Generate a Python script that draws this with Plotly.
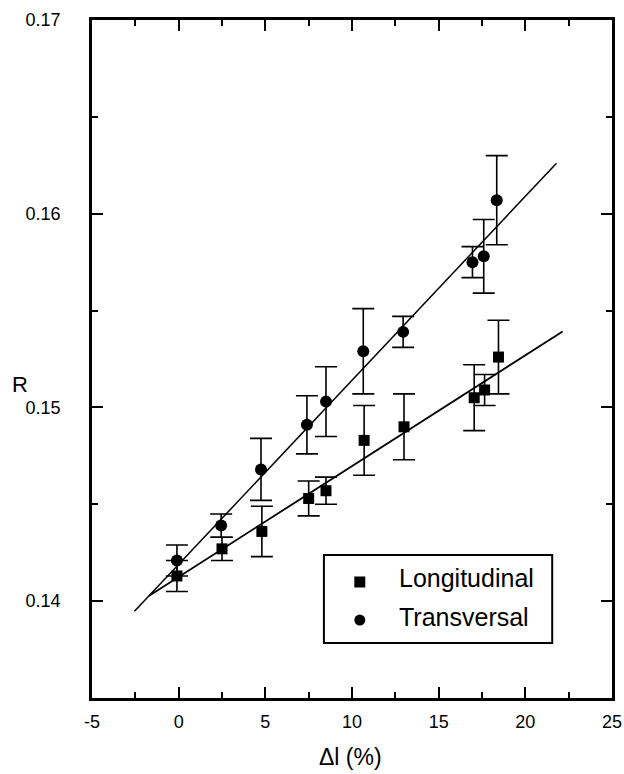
import plotly.graph_objects as go

# Longitudinal data
long_x = [-0.1, 2.5, 4.8, 7.5, 8.5, 10.7, 13.0, 17.05, 17.65, 18.45]
long_y = [0.1413, 0.1427, 0.1436, 0.1453, 0.1457, 0.1483, 0.1490, 0.1505, 0.1509, 0.1526]
long_err = [0.0008, 0.0006, 0.0013, 0.0009, 0.0007, 0.0018, 0.0017, 0.0017, 0.0008, 0.0019]

# Transversal data
trans_x = [-0.1, 2.45, 4.75, 7.4, 8.5, 10.65, 12.95, 16.95, 17.6, 18.35]
trans_y = [0.1421, 0.1439, 0.1468, 0.1491, 0.1503, 0.1529, 0.1539, 0.1575, 0.1578, 0.1607]
trans_err = [0.0008, 0.0006, 0.0016, 0.0015, 0.0018, 0.0022, 0.0008, 0.0008, 0.0019, 0.0023]

# Linear fits (intercept, slope) and drawn x extents
long_fit = (0.14125, 0.000572)
long_fit_x = [-1.7, 22.15]
trans_fit = (0.14190, 0.000950)
trans_fit_x = [-2.55, 21.8]

x_ticks = [-5, 0, 5, 10, 15, 20, 25]
y_ticks = [0.14, 0.15, 0.16, 0.17]

series_names = ["Longitudinal", "Transversal"]
series_symbols = ["square", "circle"]

FONT = "Liberation Sans, Arial, sans-serif"

fig = go.Figure()

fig.add_trace(go.Scatter(
    x=trans_fit_x, y=[trans_fit[0] + trans_fit[1] * v for v in trans_fit_x],
    mode="lines", line=dict(color="black", width=1.5), showlegend=False,
    hoverinfo="skip"))
fig.add_trace(go.Scatter(
    x=long_fit_x, y=[long_fit[0] + long_fit[1] * v for v in long_fit_x],
    mode="lines", line=dict(color="black", width=1.8), showlegend=False,
    hoverinfo="skip"))

fig.add_trace(go.Scatter(
    x=long_x, y=long_y, mode="markers", name=series_names[0],
    marker=dict(symbol="square", size=11, color="black"), showlegend=False,
    error_y=dict(type="data", array=long_err, visible=True, color="black",
                 thickness=1.6, width=11)))
fig.add_trace(go.Scatter(
    x=trans_x, y=trans_y, mode="markers", name=series_names[1],
    marker=dict(symbol="circle", size=12, color="black"), showlegend=False,
    error_y=dict(type="data", array=trans_err, visible=True, color="black",
                 thickness=1.6, width=11)))

# Legend box (drawn manually to match the original layout)
leg_x0, leg_x1, leg_y0, leg_y1 = 0.446, 0.885, 0.081, 0.211
leg_marker_x = 0.515
leg_text_x = 0.5865
leg_marker_y = [0.1711, 0.1150]
leg_text_y = [0.1777, 0.1195]

fig.add_shape(type="rect", xref="paper", yref="paper",
              x0=leg_x0, x1=leg_x1, y0=leg_y0, y1=leg_y1,
              line=dict(color="black", width=2), fillcolor="white", layer="below")
for name, sym, my, ty in zip(series_names, series_symbols, leg_marker_y, leg_text_y):
    fig.add_trace(go.Scatter(
        x=[leg_marker_x], y=[my], xaxis="x2", yaxis="y2", mode="markers",
        marker=dict(symbol=sym, size=11, color="black"), showlegend=False,
        hoverinfo="skip"))
    fig.add_annotation(x=leg_text_x, y=ty, xref="paper", yref="paper",
                       text=name, showarrow=False, xanchor="left", yanchor="middle",
                       font=dict(family=FONT, size=25, color="black"))

# Axis titles (y title upright as in the original)
fig.add_annotation(x=-0.138, y=0.4617, xref="paper", yref="paper", text="R",
                   showarrow=False, xanchor="center", yanchor="middle",
                   font=dict(family=FONT, size=22, color="black"))
fig.add_annotation(x=0.498, y=-0.087, xref="paper", yref="paper", text="Δl (%)",
                   showarrow=False, xanchor="center", yanchor="middle",
                   font=dict(family=FONT, size=23, color="black"))

axis_common = dict(
    showline=True, linecolor="black", linewidth=2.5, mirror="allticks",
    ticks="inside", ticklen=11, tickwidth=2, tickcolor="black",
    showgrid=False, zeroline=False, automargin=False,
    tickfont=dict(family=FONT, size=18, color="black"),
)

xaxis = dict(
    range=[-5, 25], tickmode="array", tickvals=x_ticks, ticktext=[str(v) for v in x_ticks],
    minor=dict(ticks="inside", ticklen=6, tickwidth=2, tickcolor="black", dtick=2.5, tick0=0),
    ticklabelstandoff=6,
    **axis_common)
yaxis = dict(
    range=[0.135, 0.17], tickmode="array", tickvals=y_ticks, ticktext=["%.2f" % v for v in y_ticks],
    minor=dict(ticks="inside", ticklen=6, tickwidth=2, tickcolor="black", dtick=0.005, tick0=0.135),
    ticklabelstandoff=25,
    **axis_common)

fig.update_layout(
    width=624, height=774,
    margin=dict(l=92, r=12, t=20, b=76),
    paper_bgcolor="white", plot_bgcolor="white",
    font=dict(family=FONT, color="black"),
    showlegend=False,
    xaxis=xaxis, yaxis=yaxis,
    xaxis2=dict(overlaying="x", range=[0, 1], visible=False),
    yaxis2=dict(overlaying="y", range=[0, 1], visible=False),
)

fig.write_html("out.html")
